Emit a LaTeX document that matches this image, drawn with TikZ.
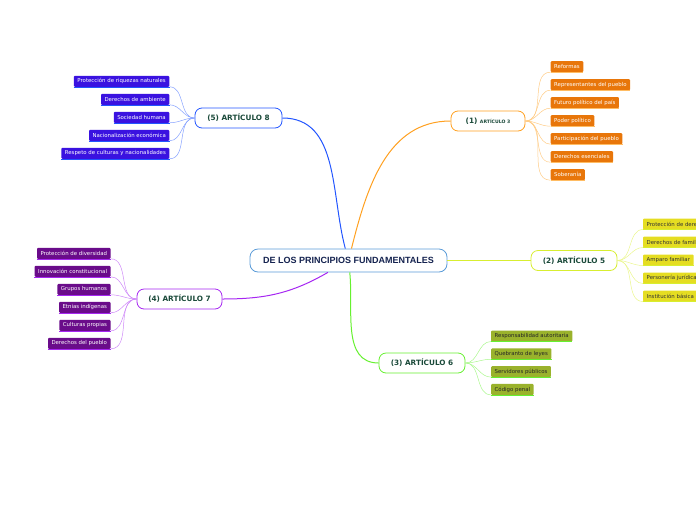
\documentclass[tikz,border=0pt]{standalone}
\usepackage{fontspec}
\setmainfont{DejaVu Sans}
\newfontfamily\titlefont{Liberation Sans}

\definecolor{centralblue}{HTML}{5A9BD8}
\definecolor{navy}{HTML}{14224F}
\definecolor{artgreen}{HTML}{1B4A3A}
\definecolor{branchA}{HTML}{2255FF}
\definecolor{leafA}{HTML}{3A12E0}
\definecolor{branchB}{HTML}{FFA020}
\definecolor{leafB}{HTML}{E8760A}
\definecolor{branchC}{HTML}{D8EE30}
\definecolor{leafC}{HTML}{E5DD22}
\definecolor{branchD}{HTML}{66F030}
\definecolor{leafD}{HTML}{9AB22C}
\definecolor{branchE}{HTML}{A626F2}
\definecolor{leafE}{HTML}{6A0C8A}

\begin{document}
\begin{tikzpicture}[x=1pt,y=-1pt,
            central/.style={draw=centralblue,line width=.8pt,rounded corners=8pt,fill=white,minimum width=197pt,minimum height=23pt,inner sep=0pt,text=navy,font=\titlefont\bfseries\fontsize{9}{10}\selectfont},
            article/.style={draw=#1,line width=.8pt,rounded corners=7pt,fill=white,minimum height=20pt,inner sep=0pt,text=artgreen,font=\bfseries\fontsize{7.3}{8}\selectfont},
            leaf/.style={fill=#1,rounded corners=1pt,minimum height=11pt,inner xsep=3.5pt,inner ysep=0pt,font=\fontsize{5.4}{6}\selectfont},
            twig/.style={line width=.5pt,#1!55},
            branch/.style={line width=1pt,#1}]
            \clip (0,0) rectangle (696,520);

            \node[central] (center) at (348.5,260.5) {DE LOS PRINCIPIOS FUNDAMENTALES};
            \node[article=branchA,minimum width=87pt] (art8) at (238.5,118) {(5) ARTÍCULO 8};
            \node[article=branchB,minimum width=74pt] (art3) at (488,121) {(1) {\fontsize{4.6}{5}\selectfont ARTÍCULO 3}};
            \node[article=branchC,minimum width=86pt] (art5) at (574,260.5) {(2) ARTÍCULO 5};
            \node[article=branchD,minimum width=86pt] (art6) at (422,363) {(3) ARTÍCULO 6};
            \node[article=branchE,minimum width=85pt] (art7) at (179.5,299) {(4) ARTÍCULO 7};

            \draw[branch=branchA] (center) to[out=105,in=0] (art8.east);
            \draw[branch=branchB] (center) to[out=76,in=180] (art3.west);
            \draw[branch=branchC] (center.east) -- (art5.west);
            \draw[branch=branchD] (center) to[out=-84,in=180] (art6.west);
            \draw[branch=branchE] (center) to[out=210,in=0] (art7.east);

            \foreach \y/\t [count=\i] in {81.3/Protección de riquezas naturales,99.3/Derechos de ambiente,117.3/Sociedad humana,135.3/Nacionalización económica,153.3/Respeto de culturas y nacionalidades} {
            \draw[twig=branchA] (art8.west) to[out=180,in=0] (169.5,\y+5.5);
            \node[leaf=leafA,text=white,anchor=east] (art8l\i) at (169.5,\y) {\t};
            \draw[line width=.8pt,branchA] (art8l\i.south west) -- (art8l\i.south east);}

            \foreach \y/\t [count=\i] in {66.7/Reformas,84.7/Representantes del pueblo,102.7/Futuro político del país,120.7/Poder político,138.7/Participación del pueblo,156.7/Derechos esenciales,174.7/Soberanía} {
            \draw[twig=branchB] (art3.east) to[out=0,in=180] (550.5,\y+5.5);
            \node[leaf=leafB,text=white,anchor=west] (art3l\i) at (550.5,\y) {\t};
            \draw[line width=.8pt,branchB!70] (art3l\i.south west) -- (art3l\i.south east);}

            \foreach \y/\t [count=\i] in {224/Protección de derechos,242/Derechos de familia,260/Amparo familiar,278/Personería jurídica,296/Institución básica} {
            \draw[twig=branchC] (art5.east) to[out=0,in=180] (643,\y+5.5);
            \node[leaf=leafC,text=black!80,anchor=west] (art5l\i) at (643,\y) {\t};
            \draw[line width=.8pt,branchC] (art5l\i.south west) -- (art5l\i.south east);}

            \foreach \y/\t [count=\i] in {336/Responsabilidad autoritaria,353.8/Quebranto de leyes,371.6/Servidores públicos,389.4/Código penal} {
            \draw[twig=branchD] (art6.east) to[out=0,in=180] (491,\y+5.5);
            \node[leaf=leafD,text=black!85,anchor=west] (art6l\i) at (491,\y) {\t};
            \draw[line width=.8pt,branchD] (art6l\i.south west) -- (art6l\i.south east);}

            \foreach \y/\t [count=\i] in {253.3/Protección de diversidad,271.3/Innovación constitucional,289.3/Grupos humanos,307.3/Etnias indígenas,325.3/Culturas propias,343.3/Derechos del pueblo} {
            \draw[twig=branchE] (art7.west) to[out=180,in=0] (110.7,\y+5.5);
            \node[leaf=leafE,text=white,anchor=east] (art7l\i) at (110.7,\y) {\t};
            \draw[line width=.8pt,branchE] (art7l\i.south west) -- (art7l\i.south east);}
        \end{tikzpicture}
\end{document}
